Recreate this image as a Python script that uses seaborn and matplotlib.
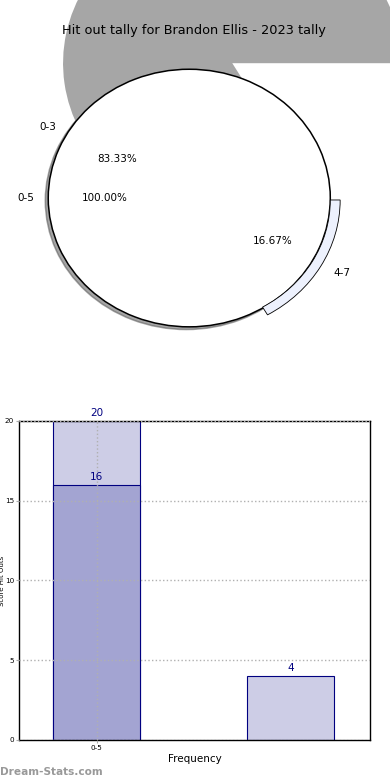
import numpy as np
import pandas as pd
import seaborn as sns
import matplotlib.pyplot as plt

# pie data
inner_labels = ['0-5']
inner_vals = [100.0]
outer_labels = ['0-3', '4-7']
outer_vals = [83.33, 16.67]

# bar data
bar_cats = ['0-5', '4-7']
bar_totals = [20, 4]
bar_part = [16, np.nan]

navy = '#000080'
light = '#cdcde6'
dark = '#a3a4d2'

fig = plt.figure(figsize=(3.9, 7.8), dpi=100)

# ---- top: nested pie
ax1 = fig.add_axes([0.0333, 0.5397, 0.904, 0.4128])

# grey smear left behind by the outer ring's shadow
shade, _ = ax1.pie(outer_vals, radius=1.2, center=(0.305, 1.047),
                   colors=['#a6a6a6', 'none'], wedgeprops=dict(linewidth=0))
shade[0].set_clip_on(False)
shade[1].set_visible(False)

ax1.pie(inner_vals, labels=inner_labels, autopct='%.2f%%', radius=1.0,
        colors=['white'], shadow=dict(ox=-0.015, oy=-0.015), startangle=0,
        labeldistance=1.1, pctdistance=0.6,
        wedgeprops=dict(edgecolor='black', linewidth=1.1),
        textprops=dict(fontsize=7.5))

# outer ring sits a touch right of the inner pie
ring, _, _ = ax1.pie(outer_vals, labels=outer_labels, autopct='%.2f%%', radius=1.03,
                     center=(0.04, -0.015),
                     colors=['white', '#edf1fd'], startangle=0,
                     labeldistance=1.1, pctdistance=0.615,
                     wedgeprops=dict(width=0.07, edgecolor='black', linewidth=0.6),
                     textprops=dict(fontsize=7.5))
ring[0].set_visible(False)

ax1.set_aspect('auto')
ax1.set_xlim(-1.25, 1.25)
ax1.set_ylim(-1.25, 1.25)
ax1.set_title('Hit out tally for Brandon Ellis - 2023 tally', fontsize=9.3, pad=1, x=0.514)

# ---- bottom: bars
ax2 = fig.add_axes([0.0487, 0.0513, 0.9, 0.409])
df = pd.DataFrame({'cat': bar_cats, 'total': bar_totals, 'part': bar_part})
sns.barplot(data=df, x='cat', y='total', order=bar_cats, color=light,
            edgecolor=navy, linewidth=0.8, width=0.45, saturation=1, ax=ax2)
sns.barplot(data=df, x='cat', y='part', order=bar_cats, color=dark,
            edgecolor=navy, linewidth=0.8, width=0.45, saturation=1, ax=ax2)

for i, v in enumerate(bar_totals):
    ax2.annotate(str(v), (i, v), xytext=(0, 2), textcoords='offset points',
                 ha='center', va='bottom', fontsize=7.5, color=navy)
for i, v in enumerate(bar_part):
    if not np.isnan(v):
        ax2.annotate(str(int(v)), (i, v), xytext=(0, 2), textcoords='offset points',
                     ha='center', va='bottom', fontsize=7.5, color=navy)

ax2.set_xlim(-0.4, 1.41)
ax2.set_ylim(0, 20)
ax2.set_xticks([0])
ax2.set_xticklabels([bar_cats[0]])
ax2.set_yticks([0, 5, 10, 15, 20])
ax2.tick_params(labelsize=5.2, length=2, color='#aaaaaa', pad=1.5)
ax2.grid(True, linestyle=':', color='#b0b0b0', linewidth=1)
ax2.set_axisbelow(False)
for b in ax2.patches:
    b.set_zorder(1)
for s in ax2.spines.values():
    s.set_color('black')
    s.set_linewidth(1)
ax2.set_xlabel('Frequency', fontsize=7.5, labelpad=2)
ax2.set_ylabel('Score Hit Outs', fontsize=5)
ax2.yaxis.set_label_coords(-0.039, 0.5)

fig.text(0.0, 0.007, 'Dream-Stats.com', fontsize=7.6, fontweight='bold', color='#999999')

fig.savefig('out.png', dpi=100)
